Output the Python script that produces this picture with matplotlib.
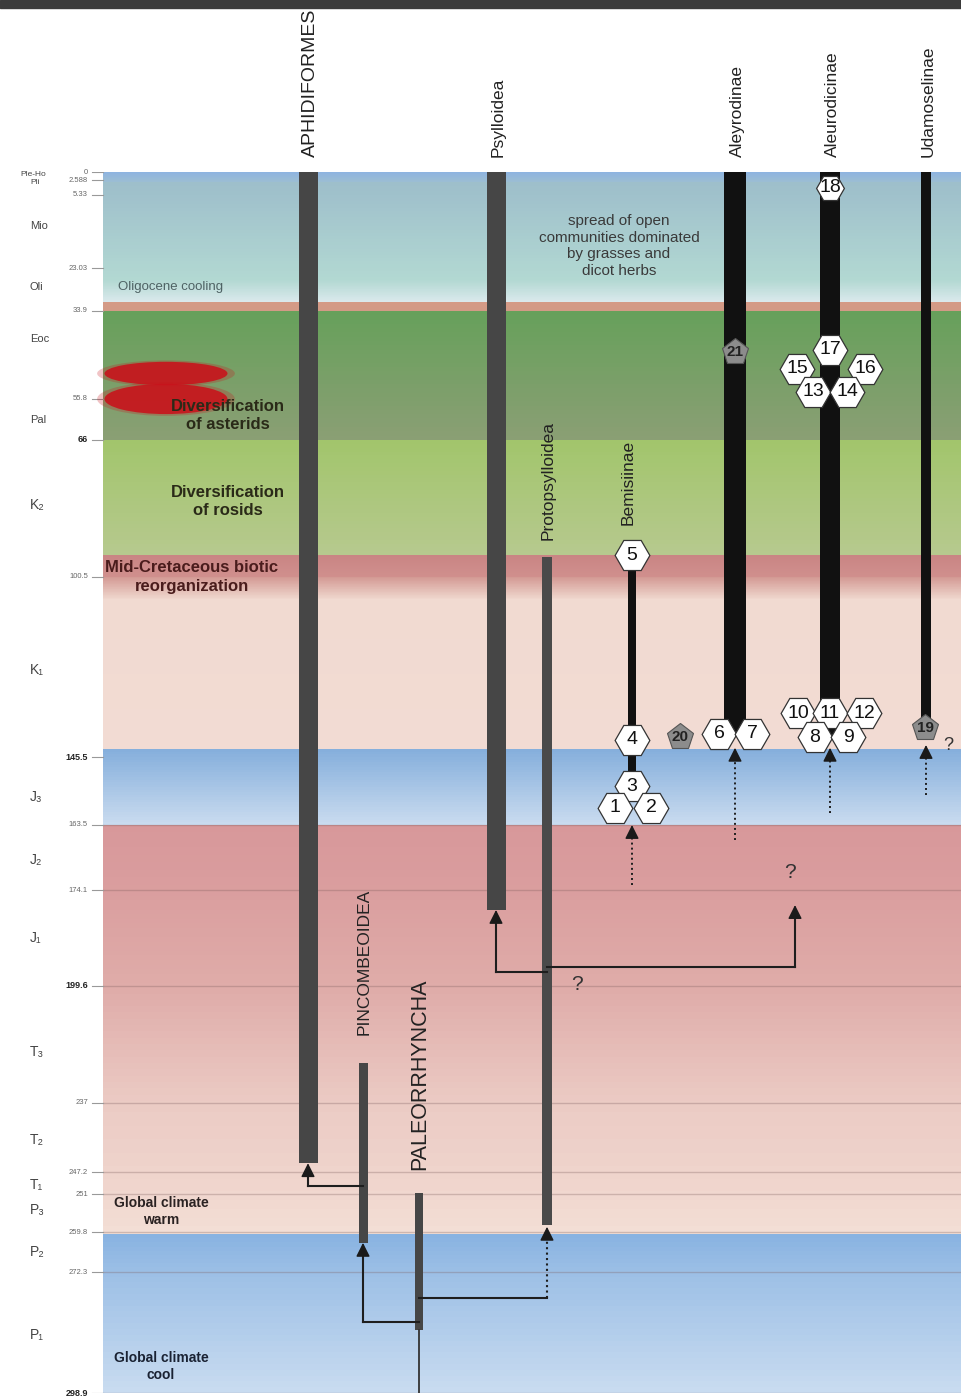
import numpy as np
import matplotlib.pyplot as plt
from matplotlib.colors import to_rgb
from matplotlib.patches import Ellipse, Rectangle
from matplotlib.transforms import blended_transform_factory

plt.rcParams['font.family'] = ['Liberation Sans', 'DejaVu Sans']

# chronostratigraphic boundaries (Ma)
boundary_ages = [0, 2.588, 5.33, 23.03, 33.9, 55.8, 66, 100.5, 145.5, 163.5,
                 174.1, 199.6, 237, 247.2, 251, 259.8, 272.3, 298.9]
boundary_labels = ['0', '2.588', '5.33', '23.03', '33.9', '55.8', '66', '100.5',
                   '145.5', '163.5', '174.1', '199.6', '237', '247.2', '251',
                   '259.8', '272.3', '298.9']
bold_labels = ['66', '145.5', '199.6', '298.9']

unit_names = ['Ple-Ho', 'Pli', 'Mio', 'Oli', 'Eoc', 'Pal', 'K₂', 'K₁', 'J₃',
              'J₂', 'J₁', 'T₃', 'T₂', 'T₁', 'P₃', 'P₂', 'P₁']
unit_ages = [0.9, 3.0, 12.9, 27.8, 40.9, 61.0, 82.4, 123.8, 156.1, 169.2,
             186.9, 220.7, 242.5, 249.5, 254.7, 266.0, 286.1]

# lineage ranges (Ma)
lineages = ['APHIDIFORMES', 'Psylloidea', 'Protopsylloidea', 'Bemisiinae',
            'Aleyrodinae', 'Aleurodicinae', 'Udamoselinae', 'PINCOMBEOIDEA',
            'PALEORRHYNCHA']
lineage_top = [0, 0, 95.5, 95.0, 0, 0, 0, 224.2, 250.8]
lineage_base = [245.9, 179.4, 258.2, 153.2, 139.5, 140.0, 137.5, 263.2, 285.0]

# fossil records / calibration points
node_ids = ['18', '21', '17', '15', '16', '13', '14', '5', '10', '11', '12',
            '8', '9', '4', '20', '6', '7', '19', '3', '1', '2']
node_ages = [4.05, 44.1, 43.6, 48.3, 48.3, 54.0, 54.0, 95.0, 134.5, 134.5,
             134.5, 140.5, 140.5, 141.25, 140.5, 139.75, 139.75, 138.25,
             153.2, 159.0, 159.0]
uncertain_nodes = ['21', '20', '19']

# branching: (from lineage, to column, age of split, age reached, dotted)
branches = [('PALEORRHYNCHA', 'PINCOMBEOIDEA', 283.3, 263.2, False),
            ('PALEORRHYNCHA', 'Protopsylloidea', 278.0, 258.6, True),
            ('PINCOMBEOIDEA', 'APHIDIFORMES', 249.7, 245.9, False),
            ('Protopsylloidea', 'Psylloidea', 196.0, 179.4, False),
            ('Protopsylloidea', 'Aleyrodidae', 194.6, 178.1, False)]
ghost_lines = [('Bemisiinae', 173.3, 163.5), ('Aleyrodinae', 166.0, 143.2),
               ('Aleurodicinae', 160.3, 143.2), ('Udamoselinae', 155.5, 142.5)]
question_ages = [171.2, 199.3, 142.5]

events = ['spread of open\ncommunities dominated\nby grasses and\ndicot herbs',
          'Oligocene cooling', 'Diversification\nof asterids',
          'Diversification\nof rosids', 'Mid-Cretaceous biotic\nreorganization',
          'Global climate\nwarm', 'Global climate\ncool']
event_ages = [17.7, 27.8, 59.8, 81.6, 100.5, 255.0, 293.0]

# ---- layout ----
W, H = 961, 1399
panel_rows = [172, 180, 195, 268, 311, 399, 440, 577, 757, 825, 890, 986,
              1103, 1172, 1194, 1232, 1272, 1393]
panel_left = 103
col_x = dict(zip(lineages, [308, 496, 547, 632, 735, 830, 926, 363, 419]))
col_x['Aleyrodidae'] = 795
col_w = [19, 19, 10, 8, 22, 20, 10, 9, 8]
col_c = ['#464646', '#464646', '#4a4a4a', '#111111', '#111111', '#111111',
         '#111111', '#464646', '#464646']
node_x = [830, 735, 830, 797, 865, 813, 847, 632, 798, 830, 864, 815, 848,
          632, 680, 719, 752, 925, 632, 615, 651]

bands = [(0, 3.0, '#8eb4e0', '#9bbdd4'),
         (3.0, 26.0, '#9ebfcb', '#b2d8d2'),
         (26.0, 31.6, '#b2d8d2', '#dae9ec'),
         (31.6, 33.9, '#d49a86', '#d39a86'),
         (33.9, 66.0, '#67a05b', '#8a9f74'),
         (66.0, 95.0, '#a2c56c', '#b6c98e'),
         (95.0, 100.5, '#c98584', '#d08f8d'),
         (100.5, 106.0, '#d39a94', '#efd6cd'),
         (106.0, 143.5, '#f1dad1', '#f2dbd3'),
         (143.5, 163.5, '#86afdc', '#c9dbef'),
         (163.5, 200.0, '#d8989a', '#dfaca9'),
         (200.0, 260.5, '#dfaca9', '#f3ded5'),
         (260.5, 298.9, '#89b3e1', '#c8dbf0')]


def forward(a):
    return np.interp(a, boundary_ages, panel_rows)


def inverse(p):
    return np.interp(p, panel_rows, boundary_ages)


fig = plt.figure(figsize=(W / 100, H / 100), dpi=100)
ax = fig.add_axes([0, (H - panel_rows[-1]) / H, 1,
                   (panel_rows[-1] - panel_rows[0]) / H])
ax.set_yscale('function', functions=(forward, inverse))
ax.set_xlim(0, W)
ax.set_ylim(boundary_ages[-1], 0)
ax.axis('off')

# background climate / vegetation bands
xmin = panel_left / W
for a0, a1, c0, c1 in bands:
    steps = 30
    edges = np.linspace(a0, a1, steps + 1)
    c0, c1 = np.array(to_rgb(c0)), np.array(to_rgb(c1))
    for i in range(steps):
        t = i / (steps - 1)
        ax.axhspan(edges[i], edges[i + 1], xmin=xmin, xmax=1,
                   color=c0 * (1 - t) + c1 * t, lw=0, zorder=0)

# boundary lines and age labels
for age, lab in zip(boundary_ages, boundary_labels):
    if age >= 163.5:
        ax.axhline(age, xmin=xmin, xmax=1, color='#7a5a5a', alpha=0.3,
                   lw=1.0, zorder=1)
    ax.plot([92, panel_left], [age, age], color='#999999', lw=0.8, zorder=1)
    bold = lab in bold_labels
    ax.text(88, age, lab, ha='right', va='center',
            fontsize=6.5 if bold else 5.5,
            fontweight='bold' if bold else 'normal',
            color='#222222' if bold else '#666666')

for name, age in zip(unit_names, unit_ages):
    small = name in ('Ple-Ho', 'Pli')
    ax.text(30 if name != 'Ple-Ho' else 20, age, name, ha='left', va='center',
            fontsize=6 if small else (8 if name[0] in 'MOEP' and len(name) == 3
                                      else 10),
            color='#444444')

# red patches
for cy, hy in [(49.45, 5.8), (55.8, 7.5)]:
    for grow, alpha in [(1.12, 0.25), (1.0, 0.9)]:
        ax.add_patch(Ellipse((166, cy), 123 * grow, hy * grow,
                             facecolor='#c8141c', edgecolor='none',
                             alpha=alpha, zorder=2))

# event annotations
ev_style = [dict(x=619, fs=11, fw='normal', c='#3a3a3a', ha='center'),
            dict(x=118, fs=9.5, fw='normal', c='#4e6264', ha='left'),
            dict(x=228, fs=12, fw='bold', c='#2a2a18', ha='center'),
            dict(x=228, fs=12, fw='bold', c='#2a2a18', ha='center'),
            dict(x=105, fs=12, fw='bold', c='#4a1c1c', ha='left'),
            dict(x=161, fs=10, fw='bold', c='#2a2222', ha='center'),
            dict(x=161, fs=10, fw='bold', c='#1a2233', ha='center')]
for txt, age, st in zip(events, event_ages, ev_style):
    ax.text(st['x'], age, txt, ha=st['ha'], va='center', fontsize=st['fs'],
            fontweight=st['fw'], color=st['c'], linespacing=1.25,
            multialignment='center', zorder=3)

# lineage bars
xs = [col_x[n] for n in lineages]
ax.bar(xs, np.array(lineage_base) - np.array(lineage_top), width=col_w,
       bottom=lineage_top, color=col_c, zorder=4)
ax.plot([col_x['PALEORRHYNCHA']] * 2, [lineage_base[-1], boundary_ages[-1]],
        color='#333333', lw=1.3, zorder=4)

# lineage names
top_tr = blended_transform_factory(ax.transData, fig.transFigure)
for name in ['APHIDIFORMES', 'Psylloidea', 'Aleyrodinae', 'Aleurodicinae',
             'Udamoselinae']:
    ax.text(col_x[name] + 2, 1 - 157 / H, name, transform=top_tr, rotation=90,
            ha='center', va='bottom', clip_on=False,
            fontsize=14 if name.isupper() else 12.5, color='#222222')
inner_names = {'Protopsylloidea': (91.2, 12.5), 'Bemisiinae': (87.4, 12.5),
               'PINCOMBEOIDEA': (215.3, 12.5), 'PALEORRHYNCHA': (246.9, 15.5)}
for name, (age, fs) in inner_names.items():
    dx = -4 if name == 'Bemisiinae' else 1
    ax.text(col_x[name] + dx, age, name, rotation=90, ha='center',
            va='bottom', fontsize=fs, color='#222222', zorder=3)


def head(x, age):
    ax.annotate('', xy=(x, age), xytext=(x, age + 1.0),
                arrowprops=dict(arrowstyle='-|>,head_length=0.6,head_width=0.3',
                                color='#1a1a1a', lw=1.0, mutation_scale=14,
                                shrinkA=0, shrinkB=0), zorder=6)


for src, dst, split, reach, dotted in branches:
    x0, x1 = col_x[src], col_x[dst]
    ax.plot([x0, x1], [split, split], color='#1e1e1e', lw=1.5, zorder=5)
    ax.plot([x1, x1], [split, reach + 1.0], color='#1e1e1e', lw=1.5,
            ls=(0, (1, 1.6)) if dotted else '-', zorder=5)
    head(x1, reach)

for name, start, reach in ghost_lines:
    x = col_x[name]
    ax.plot([x, x], [start, reach + 1.0], color='#1e1e1e', lw=1.4,
            ls=(0, (1, 1.6)), zorder=5)
    head(x, reach)

for (qx, fs), age in zip([(790, 15), (577, 15), (948, 13)], question_ages):
    ax.text(qx, age, '?', ha='center', va='center', fontsize=fs,
            color='#333333', zorder=6)

# fossil nodes
for nid, age, x in zip(node_ids, node_ages, node_x):
    if nid in uncertain_nodes:
        ax.plot(x, age, marker='p', ms=20, mfc='#8c8c8c', mec='#555555',
                mew=0.8, zorder=7)
        ax.text(x, age, nid, ha='center', va='center', fontsize=11,
                fontweight='bold', color='#222222', zorder=8)
    else:
        ax.plot(x, age, marker='H', ms=25 if nid != '18' else 20, mfc='white',
                mec='#333333', mew=0.9, zorder=7)
        ax.text(x, age, nid, ha='center', va='center', fontsize=14,
                color='#111111', zorder=8)

# dark strip along the upper edge
fig.add_artist(Rectangle((0, 1 - 8 / H), 1, 8 / H, transform=fig.transFigure,
                         color='#3b3b3b', zorder=10))

fig.savefig('out.png', dpi=100, facecolor='white')
